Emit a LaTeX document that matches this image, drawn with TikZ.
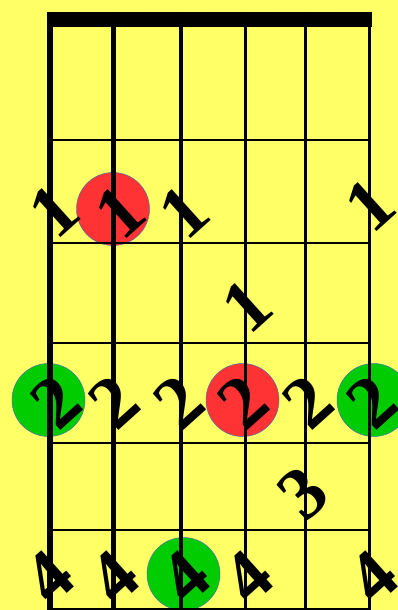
\documentclass[tikz,border=0pt]{standalone}
\usepackage{fontspec}
\setmainfont{Liberation Serif}
\usetikzlibrary{positioning}
\definecolor{board}{HTML}{FFFF66}
\definecolor{rootred}{HTML}{FF3333}
\definecolor{rootgreen}{HTML}{00CC00}
\definecolor{rim}{HTML}{4A6FB5}
\tikzset{
  finger/.style={font=\fontsize{74}{74}\selectfont\bfseries,rotate=42,inner sep=0pt},
  dotred/.style={circle,fill=rootred,draw=rim,line width=0.5pt,minimum size=73pt,inner sep=0pt},
  dotgreen/.style={dotred,fill=rootgreen},
  fretline/.style={line width=2pt},
}

\begin{document}
\begin{tikzpicture}[x=1pt,y=-1pt]
\fill[board] (0,0) rectangle (398,610);
\useasboundingbox (0,0) rectangle (398,610);

% root dots
\node[dotred]   (r1) at (113,209) {};
\node[dotgreen] (g1) at (48.5,400) {};
\node[dotred]   (r2) at (242.5,400) {};
\node[dotgreen] (g2) at (373.5,400) {};
\node[dotgreen] (g3) at (183.5,574) {};

% frets and nut
\foreach \y in {139.5,243,343,443,530,609}
  \draw[fretline] (49.5,\y) -- (369.5,\y);
\fill (47,12) rectangle (371.5,27);

% strings
\foreach \s/\x/\w in {1/49.5/6,2/113.5/5,3/181/4,4/245.5/3.5,5/305.5/3,6/369.5/3}{
  \coordinate (s\s top) at (\x,12);
  \coordinate (s\s bot) at (\x,610);
  \draw[line width=\w pt] (s\s top) -- (s\s bot);
}

% fingers
\node[finger] (f11) at (54,211) {1};
\node[finger] (f12) at (120,212) {1};
\node[finger] (f13) at (184,212) {1};
\node[finger] (f16) at (370,205) {1};
\node[finger] (f24) at (247,306) {1};
\foreach \s/\x in {1/56,2/114,3/179,4/243,5/308,6/372}
  \node[finger] (f3\s) at (\x,402) {2};
\node[finger] (f45) at (303,493) {3};
\foreach \s/\x in {1/49,2/114,3/185,4/248,6/373}
  \node[finger] (f5\s) at (\x,577) {4};
\end{tikzpicture}
\end{document}
